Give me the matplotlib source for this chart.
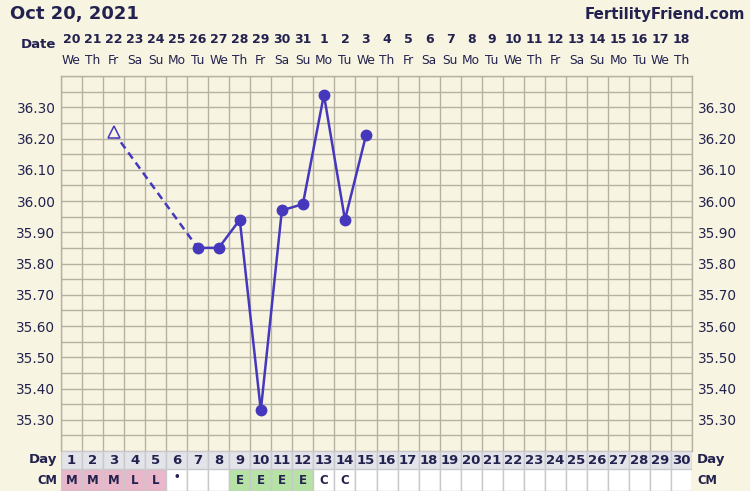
import matplotlib
matplotlib.use("Agg")
import matplotlib.pyplot as plt
import numpy as np

# chart data
cycle_days = list(range(1, 31))
dates = [20, 21, 22, 23, 24, 25, 26, 27, 28, 29, 30, 31, 1, 2, 3,
         4, 5, 6, 7, 8, 9, 10, 11, 12, 13, 14, 15, 16, 17, 18]
weekdays = ["We", "Th", "Fr", "Sa", "Su", "Mo", "Tu", "We", "Th", "Fr",
            "Sa", "Su", "Mo", "Tu", "We", "Th", "Fr", "Sa", "Su", "Mo",
            "Tu", "We", "Th", "Fr", "Sa", "Su", "Mo", "Tu", "We", "Th"]
cm_codes = ["M", "M", "M", "L", "L", "•", "", "", "E", "E", "E", "E", "C", "C",
            "", "", "", "", "", "", "", "", "", "", "", "", "", "", "", ""]
temp_days = [3, 7, 8, 9, 10, 11, 12, 13, 14, 15]
temps = [36.22, 35.85, 35.85, 35.94, 35.33, 35.97, 35.99, 36.34, 35.94, 36.21]
y_labels = [35.30, 35.40, 35.50, 35.60, 35.70, 35.80, 35.90, 36.00, 36.10, 36.20, 36.30]

BG = "#f7f4e1"
GRID = "#b5b2a4"
NAVY = "#23224f"
LINE = "#4538bd"
CM_COLORS = {"M": "#e8b7c9", "L": "#e8b7c9", "E": "#b6e2a6"}

W, H = 750, 491


def px_box(x0, y0, x1, y1):
    # pixel box (top-left origin) -> figure fraction rect
    return [x0 / W, 1 - y1 / H, (x1 - x0) / W, (y1 - y0) / H]


fig = plt.figure(figsize=(7.5, 4.91), dpi=100, facecolor=BG)

ax = fig.add_axes(px_box(61, 76, 692, 451))
ax.set_facecolor(BG)
ax.set_xlim(0.5, 30.5)
ax.set_ylim(35.20, 36.40)
ax.set_xticks(np.arange(0.5, 31, 1))
ax.set_yticks(np.arange(35.20, 36.41, 0.05), minor=True)
ax.set_yticks(y_labels)
ax.set_yticklabels([f"{v:.2f}" for v in y_labels])
ax.grid(True, which="both", color=GRID, linewidth=1.0)
ax.set_axisbelow(True)
ax.tick_params(axis="x", length=0, labelbottom=False)
ax.tick_params(axis="y", which="both", length=0, labelleft=True, labelright=True,
               labelsize=9.8, labelcolor=NAVY, pad=4)
for s in ax.spines.values():
    s.set_color(GRID)
    s.set_linewidth(1.0)
ax.spines["bottom"].set_visible(False)

# temperatures: dashed from the open triangle, solid afterwards
ax.plot(temp_days[:2], temps[:2], color=LINE, lw=1.8, ls=(0, (3, 2)))
ax.plot(temp_days[1:], temps[1:], color=LINE, lw=1.8, marker="o", ms=7.5)
ax.plot(temp_days[:1], temps[:1], ls="none", marker="^", ms=8, mfc=BG,
        mec=LINE, mew=1.1)

# date header
tr = ax.get_xaxis_transform()
for d, dt, wd in zip(cycle_days, dates, weekdays):
    ax.text(d, 1 + 36 / 375, str(dt), transform=tr, ha="center", va="center",
            fontsize=9, fontweight="bold", color=NAVY)
    ax.text(d, 1 + 16 / 375, wd, transform=tr, ha="center", va="center",
            fontsize=8.8, color=NAVY)
fig.text(56 / W, 1 - 45 / H, "Date", ha="right", va="center", fontsize=9.5,
         fontweight="bold", color=NAVY)
fig.text(10 / W, 1 - 14 / H, "Oct 20, 2021", ha="left", va="center",
         fontsize=13, fontweight="bold", color=NAVY)
fig.text(745 / W, 1 - 14 / H, "FertilityFriend.com", ha="right", va="center",
         fontsize=10.8, fontweight="bold", color=NAVY)

# cycle day row
ax_day = fig.add_axes(px_box(61, 451, 692, 469))
ax_day.set_xlim(0.5, 30.5)
ax_day.set_ylim(0, 1)
ax_day.bar(cycle_days, [1] * 30, width=1, color="#e3e3ea", edgecolor="#c9c8cc", lw=1)
for d in cycle_days:
    ax_day.text(d, 0.5, str(d), ha="center", va="center", fontsize=9.5,
                fontweight="bold", color=NAVY)
ax_day.axis("off")

# cervical mucus row
ax_cm = fig.add_axes(px_box(61, 469, 692, 491))
ax_cm.set_xlim(0.5, 30.5)
ax_cm.set_ylim(0, 1)
ax_cm.bar(cycle_days, [1] * 30, width=1,
          color=[CM_COLORS.get(c, "white") for c in cm_codes],
          edgecolor="#c9c8cc", lw=1)
for d, c in zip(cycle_days, cm_codes):
    if c:
        ax_cm.text(d, 0.5 if c != "•" else 0.62, c, ha="center", va="center",
                   fontsize=8.5 if c != "•" else 7.5, fontweight="bold", color=NAVY)
ax_cm.axis("off")

for y, lab in [(460, "Day"), (480, "CM")]:
    fs = 9.5 if lab == "Day" else 8.3
    fig.text(57 / W, 1 - y / H, lab, ha="right", va="center", fontsize=fs,
             fontweight="bold", color=NAVY)
    fig.text(697 / W, 1 - y / H, lab, ha="left", va="center", fontsize=fs,
             fontweight="bold", color=NAVY)

fig.savefig("out.png", dpi=100, facecolor=BG)
